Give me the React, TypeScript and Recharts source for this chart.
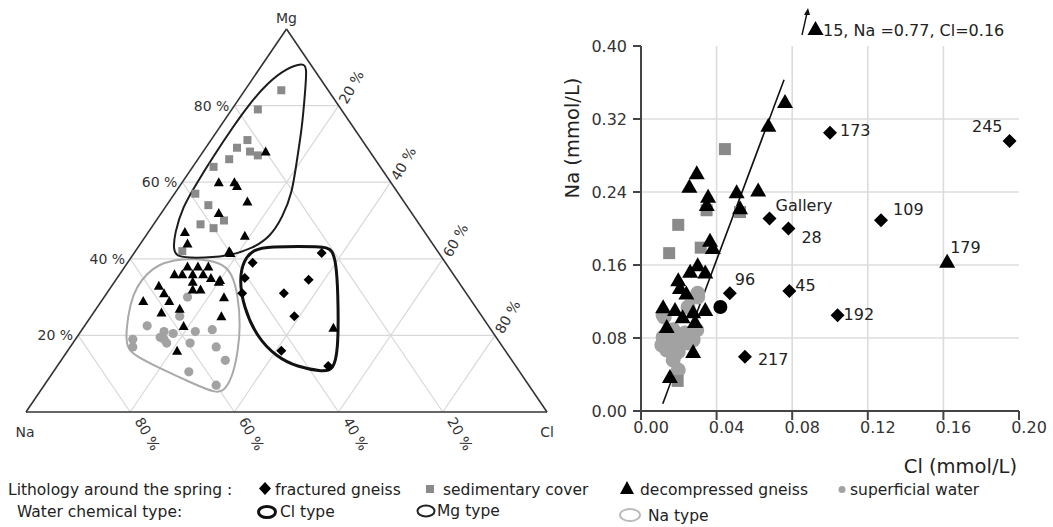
import React from 'react';
import { ScatterChart, Scatter, XAxis, YAxis, ReferenceLine, ReferenceDot } from 'recharts';

// ---------- Ternary diagram data: [Mg %, Cl %]  (Na % = 100 - Mg - Cl) ----------
const ternSedimentary: [number, number][] = [
  [84, 7], [79, 5], [71, 7], [69, 6], [68, 9], [66, 6], [67, 11], [64, 4], [57, 4],
  [54, 8], [49, 9], [48, 12], [50, 13], [42, 9],
];
const ternDecompressed: [number, number][] = [
  [68, 12], [60, 7], [60, 10], [59, 11], [55, 15], [52, 11], [47, 7], [44, 9], [46, 19], [42, 18], [41.5, 18.5],
  [38, 12], [38, 14], [38, 16], [36, 10.5], [36, 12], [36, 14], [36, 16], [35, 18], [34.5, 20], [33, 9], [31, 11],
  [34, 15], [32, 17.5], [32, 16], [34, 20], [30, 23], [29, 8], [29, 13], [27, 16], [26, 13], [25, 25], [22.5, 19],
  [16, 21], [22, 48],
];
const ternSuperficial: [number, number][] = [
  [30, 16], [25, 17], [22.5, 12], [21, 16], [21, 22], [21.5, 25], [19, 11], [17, 12], [19.5, 16], [18, 18],
  [20.5, 18], [18, 22.5], [17, 28], [13.5, 31.5], [10.5, 26], [7, 33], [19, 17],
];
const ternFractured: [number, number][] = [
  [41.5, 36], [39, 24], [35, 24.5], [34.5, 37], [31, 34], [31, 26], [25, 39], [16, 41], [12, 52],
];
// water chemical type envelopes, [Mg %, Cl %]
const envMgType: [number, number][] = [
  [91.1, 7.6], [90.1, 8.9], [83.3, 11.9], [74.4, 15.8], [65.8, 19.1], [57.2, 22.5], [50.9, 23.8], [45.7, 24.0],
  [42.8, 22.2], [40.5, 18.4], [40.2, 12.0], [40.5, 8.8], [42.3, 7.1], [46.7, 5.2], [53.5, 3.3], [59.8, 2.9],
  [66.6, 2.6], [74.4, 2.5], [80.7, 2.7], [85.9, 3.4], [89.8, 5.2],
];
const envNaType: [number, number][] = [
  [39.7, 8.5], [40.1, 12.1], [39.2, 17.6], [36.6, 21.2], [30.1, 25.7], [22.3, 30.0], [16.2, 32.6], [10.1, 34.8],
  [5.7, 35.4], [4.8, 34.2], [7.4, 28.4], [11.4, 20.0], [14.9, 13.2], [17.0, 10.8], [21.4, 8.5], [28.4, 5.8],
  [32.7, 4.9], [36.2, 5.1], [38.4, 6.2],
];
const envClType: [number, number][] = [
  [39.7, 21.9], [42.3, 22.5], [43.2, 24.6], [43.3, 35.4], [42.5, 37.6], [37.9, 40.7], [27.5, 46.2], [16.2, 51.8],
  [11.0, 53.5], [10.5, 51.8], [11.8, 46.1], [14.4, 40.9], [19.6, 34.5], [27.5, 28.0], [34.5, 23.7],
];
const ternTicks = [20, 40, 60, 80];

// ---------- Na vs Cl data (mmol/L): [Cl, Na] ----------
const xyFractured = [
  { cl: 0.100, na: 0.305, label: '173' },
  { cl: 0.195, na: 0.296, label: '245' },
  { cl: 0.068, na: 0.211, label: 'Gallery' },
  { cl: 0.078, na: 0.200, label: '28' },
  { cl: 0.127, na: 0.209, label: '109' },
  { cl: 0.047, na: 0.129, label: '96' },
  { cl: 0.0785, na: 0.1315, label: '45' },
  { cl: 0.104, na: 0.105, label: '192' },
  { cl: 0.055, na: 0.0595, label: '217' },
];
const xyDecompressed = [
  { cl: 0.0762, na: 0.339 }, { cl: 0.0674, na: 0.313 }, { cl: 0.062, na: 0.242 }, { cl: 0.0506, na: 0.240 },
  { cl: 0.0524, na: 0.2225 }, { cl: 0.0295, na: 0.261 }, { cl: 0.0256, na: 0.246 }, { cl: 0.0355, na: 0.235 },
  { cl: 0.0348, na: 0.226 }, { cl: 0.0365, na: 0.187 }, { cl: 0.038, na: 0.179 }, { cl: 0.030, na: 0.160 },
  { cl: 0.026, na: 0.153 }, { cl: 0.034, na: 0.152 }, { cl: 0.0197, na: 0.1435 }, { cl: 0.0206, na: 0.135 },
  { cl: 0.024, na: 0.129 }, { cl: 0.0117, na: 0.114 }, { cl: 0.018, na: 0.111 }, { cl: 0.022, na: 0.103 },
  { cl: 0.0276, na: 0.1085 }, { cl: 0.034, na: 0.111 }, { cl: 0.0286, na: 0.098 }, { cl: 0.0136, na: 0.0924 },
  { cl: 0.0276, na: 0.065 }, { cl: 0.0153, na: 0.0376 }, { cl: 0.162, na: 0.164, label: '179' },
];
const xySedimentary = [
  { cl: 0.0444, na: 0.287 }, { cl: 0.0197, na: 0.204 }, { cl: 0.0149, na: 0.173 }, { cl: 0.0316, na: 0.179 },
  { cl: 0.0347, na: 0.220 }, { cl: 0.0524, na: 0.218 }, { cl: 0.0194, na: 0.033 },
];
const xySuperficial = [
  { cl: 0.0249, na: 0.114 }, { cl: 0.030, na: 0.129 }, { cl: 0.0117, na: 0.081 }, { cl: 0.017, na: 0.089 },
  { cl: 0.0233, na: 0.0855 }, { cl: 0.0276, na: 0.078 }, { cl: 0.0136, na: 0.0668 }, { cl: 0.0197, na: 0.065 },
  { cl: 0.025, na: 0.0745 }, { cl: 0.011, na: 0.0723 }, { cl: 0.017, na: 0.0559 }, { cl: 0.0295, na: 0.0888 },
  { cl: 0.0197, na: 0.045 }, { cl: 0.0117, na: 0.105 }, { cl: 0.0123, na: 0.103 }, { cl: 0.030, na: 0.125 },
  { cl: 0.019, na: 0.076 }, { cl: 0.0155, na: 0.078 },
];
const xyOther = [{ cl: 0.042, na: 0.114 }];
const regression = [{ cl: 0.0115, na: 0.008 }, { cl: 0.0757, na: 0.363 }];
const naTicks = [0, 0.08, 0.16, 0.24, 0.32, 0.4];
const clTicks = [0, 0.04, 0.08, 0.12, 0.16, 0.2];
const naGrid = [0.08, 0.16, 0.24, 0.32];
const clGrid = [0.04, 0.08, 0.12, 0.16];

// ---------- helpers ----------
const FONT = 'DejaVu Sans';
const toTern = (d: [number, number]) => ({ x: d[1] + d[0] / 2, y: d[0] });
const toXY = (d: any) => ({ x: d.cl, y: d.na, label: d.label });

const labelOffsets: Record<string, { dx: number; dy: number; anchor: 'start' | 'end' }> = {
  '173': { dx: 10, dy: 3, anchor: 'start' },
  '245': { dx: -7, dy: -9, anchor: 'end' },
  Gallery: { dx: 6, dy: -7, anchor: 'start' },
  '28': { dx: 13, dy: 14, anchor: 'start' },
  '109': { dx: 12, dy: -5, anchor: 'start' },
  '179': { dx: 3, dy: -8, anchor: 'start' },
  '96': { dx: 5, dy: -8, anchor: 'start' },
  '45': { dx: 6, dy: 0, anchor: 'start' },
  '192': { dx: 6, dy: 5, anchor: 'start' },
  '217': { dx: 13, dy: 8, anchor: 'start' },
};

const tri = (w: number, h: number, fill: string) => (cx: number, cy: number) => (
  <polygon points={`${cx},${cy - h * 0.55} ${cx + w / 2},${cy + h * 0.45} ${cx - w / 2},${cy + h * 0.45}`} fill={fill} />
);
const dia = (s: number, fill: string) => (cx: number, cy: number) => (
  <polygon points={`${cx},${cy - s} ${cx + s},${cy} ${cx},${cy + s} ${cx - s},${cy}`} fill={fill} />
);
const sq = (s: number, fill: string) => (cx: number, cy: number) => (
  <rect x={cx - s / 2} y={cy - s / 2} width={s} height={s} fill={fill} />
);
const circ = (r: number, fill: string) => (cx: number, cy: number) => <circle cx={cx} cy={cy} r={r} fill={fill} stroke="none" />;

const shapeOf = (marker: (cx: number, cy: number) => React.ReactElement) => (p: any) => {
  const lab = p?.payload?.label;
  const o = lab ? labelOffsets[lab] : null;
  return (
    <g>
      {marker(p.cx, p.cy)}
      {o && (
        <text x={p.cx + o.dx} y={p.cy + o.dy} textAnchor={o.anchor} fontSize={16} fontFamily={FONT} fill="#222">
          {lab}
        </text>
      )}
    </g>
  );
};
const noShape = () => <g />;

const SQ_GRAY = '#8a8a8a';
const CI_GRAY = '#a2a2a2';

const tickText = (p: any) => (
  <text x={p.x + 10} y={p.y} dy="0.71em" textAnchor="middle" fontSize={16} fontFamily={FONT} fill="#333">
    {Number(p.payload.value).toFixed(2)}
  </text>
);
const yTickText = (p: any) => (
  <text x={p.x} y={p.y} dy="0.36em" textAnchor="end" fontSize={16} fontFamily={FONT} fill="#333">
    {Number(p.payload.value).toFixed(2)}
  </text>
);

const labelText = (txt: string, dx: number, dy: number, anchor: string, rot = 0, size = 14) => (p: any) => {
  const x = p.cx + dx;
  const y = p.cy + dy;
  return (
    <text
      x={x}
      y={y}
      textAnchor={anchor as any}
      fontSize={size}
      fontFamily={FONT}
      fill="#333"
      transform={rot ? `rotate(${rot} ${x} ${y})` : undefined}
    >
      {txt}
    </text>
  );
};

function Ternary() {
  const gridSegs: { x: number; y: number }[][] = [];
  ternTicks.forEach((v) => {
    gridSegs.push([{ x: v / 2, y: v }, { x: 100 - v / 2, y: v }]);
    gridSegs.push([{ x: v, y: 0 }, { x: (100 + v) / 2, y: 100 - v }]);
    gridSegs.push([{ x: 100 - v, y: 0 }, { x: (100 - v) / 2, y: 100 - v }]);
  });
  const edges = [
    [{ x: 0, y: 0 }, { x: 100, y: 0 }],
    [{ x: 0, y: 0 }, { x: 50, y: 100 }],
    [{ x: 50, y: 100 }, { x: 100, y: 0 }],
  ];
  return (
    <ScatterChart width={560} height={470} margin={{ top: 29, right: 13, bottom: 58, left: 26 }}>
      <XAxis type="number" dataKey="x" domain={[0, 100]} hide />
      <YAxis type="number" dataKey="y" domain={[0, 100]} hide />
      {gridSegs.map((s, i) => (
        <ReferenceLine key={'g' + i} segment={s} stroke="#d8d8d8" strokeWidth={1.2} />
      ))}
      {edges.map((s, i) => (
        <ReferenceLine key={'e' + i} segment={s} stroke="#333" strokeWidth={1.6} />
      ))}
      <ReferenceDot x={50} y={100} r={0} shape={labelText('Mg', 0, -6, 'middle')} />
      <ReferenceDot x={0} y={0} r={0} shape={labelText('Na', -1, 25, 'middle')} />
      <ReferenceDot x={100} y={0} r={0} shape={labelText('Cl', 0, 25, 'middle')} />
      {ternTicks.map((v) => (
        <ReferenceDot key={'lt' + v} x={v / 2} y={v} r={0} shape={labelText(`${v} %`, -5, 5, 'end')} />
      ))}
      {ternTicks.map((v) => (
        <ReferenceDot key={'rt' + v} x={50 + v / 2} y={100 - v} r={0} shape={labelText(`${v} %`, 17, -16, 'middle', -60)} />
      ))}
      {ternTicks.map((v) => (
        <ReferenceDot key={'bt' + v} x={100 - v} y={0} r={0} shape={labelText(`${v} %`, 4, 9, 'start', 60)} />
      ))}
      <Scatter data={envNaType.map(toTern)} shape={noShape} line={{ stroke: '#a9a9a9', strokeWidth: 2 }} lineType="joint" lineJointType="basisClosed" isAnimationActive={false} />
      <Scatter data={envMgType.map(toTern)} shape={noShape} line={{ stroke: '#1c1c1c', strokeWidth: 2 }} lineType="joint" lineJointType="basisClosed" isAnimationActive={false} />
      <Scatter data={envClType.map(toTern)} shape={noShape} line={{ stroke: '#111', strokeWidth: 3 }} lineType="joint" lineJointType="basisClosed" isAnimationActive={false} />
      <Scatter data={ternSuperficial.map(toTern)} shape={shapeOf(circ(4.6, CI_GRAY))} isAnimationActive={false} />
      <Scatter data={ternSedimentary.map(toTern)} shape={shapeOf(sq(8, SQ_GRAY))} isAnimationActive={false} />
      <Scatter data={ternDecompressed.map(toTern)} shape={shapeOf(tri(10, 9, '#000'))} isAnimationActive={false} />
      <Scatter data={ternFractured.map(toTern)} shape={shapeOf(dia(5, '#000'))} isAnimationActive={false} />
    </ScatterChart>
  );
}

function NaCl() {
  return (
    <ScatterChart width={493} height={470} margin={{ top: 46, right: 34, bottom: 0, left: 21 }}>
      <XAxis
        type="number"
        dataKey="x"
        domain={[0, 0.2]}
        ticks={clTicks}
        height={59}
        tickSize={9}
        tickMargin={2}
        axisLine={{ stroke: '#444', strokeWidth: 2 }}
        tickLine={{ stroke: '#444', strokeWidth: 2 }}
        tick={tickText}
        interval={0}
      />
      <YAxis
        type="number"
        dataKey="y"
        domain={[0, 0.4]}
        ticks={naTicks}
        width={60}
        tickSize={8}
        tickMargin={6}
        axisLine={{ stroke: '#444', strokeWidth: 2 }}
        tickLine={{ stroke: '#444', strokeWidth: 2 }}
        tick={yTickText}
        interval={0}
      />
      {naGrid.map((v) => (
        <ReferenceLine key={'h' + v} y={v} stroke="#dcdcdc" strokeWidth={1.6} />
      ))}
      {clGrid.map((v) => (
        <ReferenceLine key={'v' + v} x={v} stroke="#dcdcdc" strokeWidth={1.6} />
      ))}
      <ReferenceLine
        segment={regression.map((d) => ({ x: d.cl, y: d.na }))}
        stroke="#111"
        strokeWidth={1.6}
      />
      <Scatter data={xySuperficial.map(toXY)} shape={shapeOf(circ(7.5, CI_GRAY))} isAnimationActive={false} />
      <Scatter data={xySedimentary.map(toXY)} shape={shapeOf(sq(12, SQ_GRAY))} isAnimationActive={false} />
      <Scatter data={xyDecompressed.map(toXY)} shape={shapeOf(tri(16, 14, '#000'))} isAnimationActive={false} />
      <Scatter data={xyFractured.map(toXY)} shape={shapeOf(dia(7, '#000'))} isAnimationActive={false} />
      <Scatter data={xyOther.map(toXY)} shape={shapeOf(circ(7, '#000'))} isAnimationActive={false} />
    </ScatterChart>
  );
}

function Overlay() {
  const t = { fontFamily: FONT, fill: '#222' } as const;
  return (
    <svg width={1053} height={527} style={{ position: 'absolute', left: 0, top: 0, pointerEvents: 'none' }}>
      {/* axis titles */}
      <text x={572} y={138} textAnchor="middle" dominantBaseline="central" fontSize={19.5} transform="rotate(-90 572 138)" {...t}>
        Na (mmol/L)
      </text>
      <text x={1017} y={473} textAnchor="end" fontSize={19.5} {...t}>
        Cl (mmol/L)
      </text>
      {/* off-scale annotation */}
      <line x1={802} y1={35} x2={807} y2={13} stroke="#111" strokeWidth={1.4} />
      <polygon points="808,8 804,15 810,15" fill="#111" />
      <polygon points="815.5,21 823.5,35 807.5,35" fill="#000" />
      <text x={823} y={36} fontSize={16} {...t}>15, Na =0.77, Cl=0.16</text>
      {/* legend row 1 */}
      <text x={8} y={495} fontSize={15.5} {...t}>Lithology around the spring :</text>
      <polygon points="265,482 271,488.5 265,495 259,488.5" fill="#000" />
      <text x={275} y={495} fontSize={15.5} {...t}>fractured gneiss</text>
      <rect x={426} y={485} width={8} height={8} fill={SQ_GRAY} />
      <text x={443} y={495} fontSize={15.5} {...t}>sedimentary cover</text>
      <polygon points="627,481 634,494 620,494" fill="#000" />
      <text x={640} y={495} fontSize={15.5} {...t}>decompressed gneiss</text>
      <circle cx={842} cy={489.5} r={3.5} fill={CI_GRAY} />
      <text x={850} y={495} fontSize={15.5} {...t}>superficial water</text>
      {/* legend row 2 */}
      <text x={17} y={517} fontSize={15.5} {...t}>Water chemical type:</text>
      <ellipse cx={267} cy={512} rx={8.5} ry={5.5} fill="none" stroke="#111" strokeWidth={3} />
      <text x={280} y={517} fontSize={15.5} {...t}>Cl type</text>
      <ellipse cx={426} cy={511} rx={8.5} ry={5.5} fill="none" stroke="#222" strokeWidth={2} />
      <text x={437} y={516} fontSize={15.5} {...t}>Mg type</text>
      <ellipse cx={630} cy={515} rx={10} ry={6} fill="none" stroke="#bbb" strokeWidth={2} />
      <text x={648} y={521} fontSize={15.5} {...t}>Na type</text>
    </svg>
  );
}

export default function App() {
  return (
    <div style={{ position: 'absolute', left: 0, top: 0, width: 1053, height: 527, background: '#fff', overflow: 'hidden' }}>
      <div style={{ position: 'absolute', left: 0, top: 0 }}>
        <Ternary />
      </div>
      <div style={{ position: 'absolute', left: 560, top: 0 }}>
        <NaCl />
      </div>
      <Overlay />
    </div>
  );
}
